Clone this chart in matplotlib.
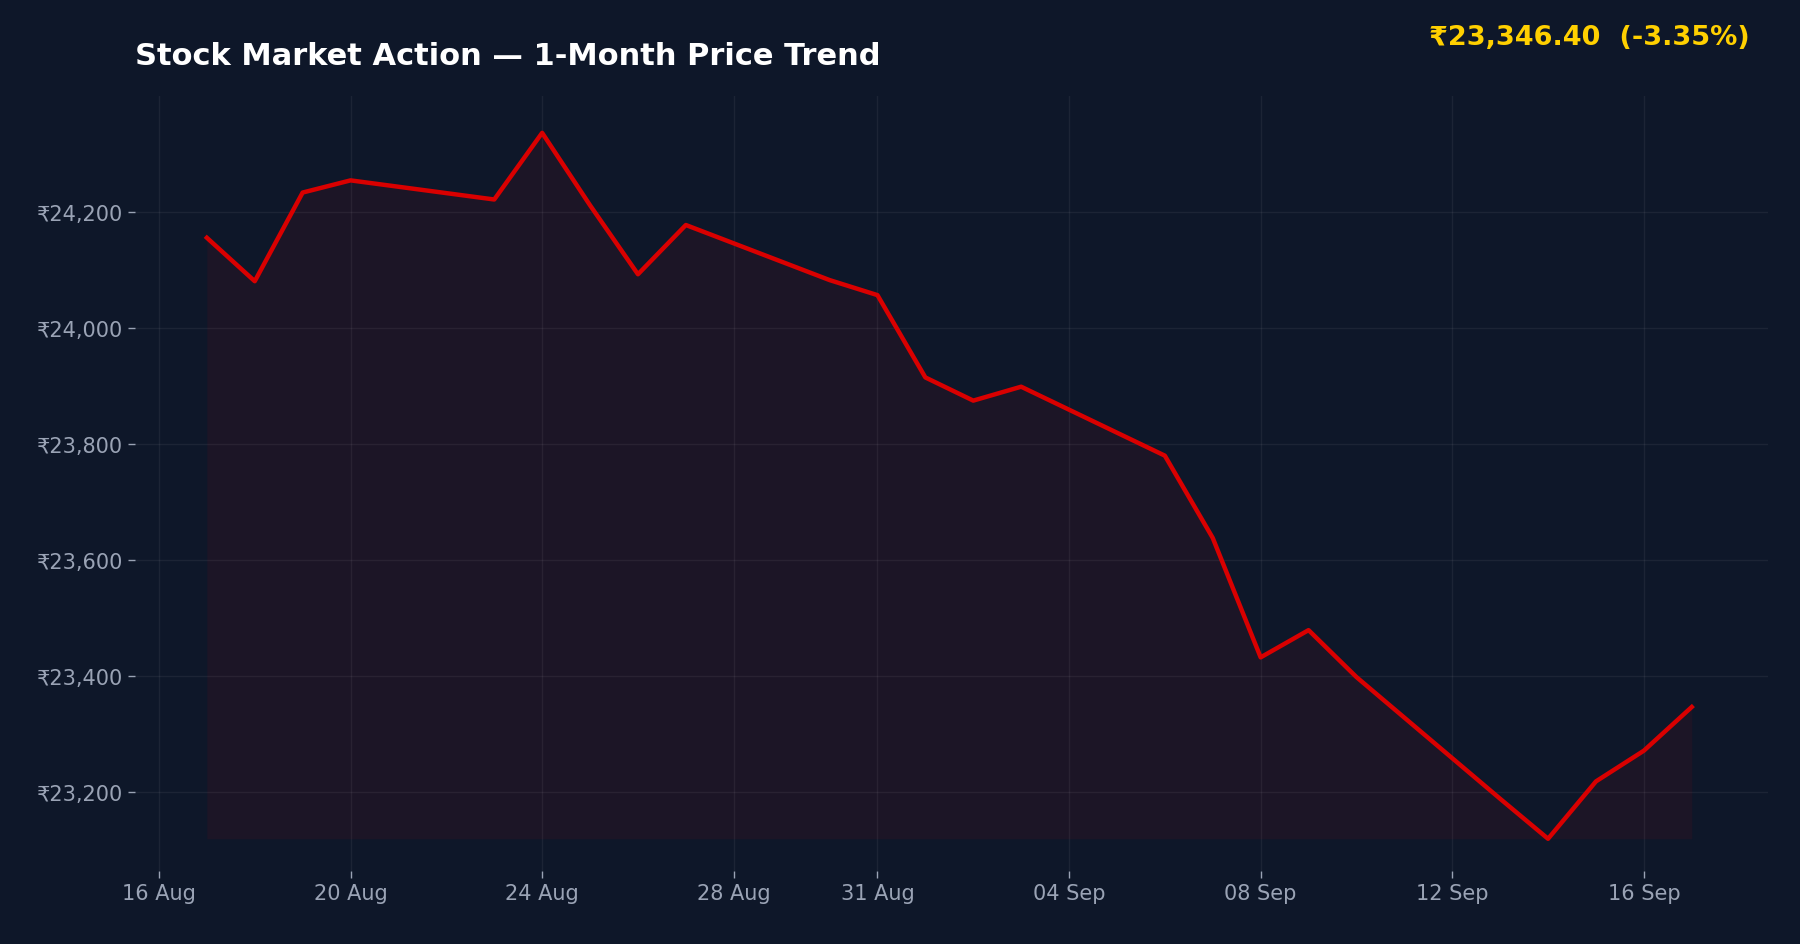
import matplotlib

matplotlib.use("Agg")

import matplotlib.dates as mdates
import matplotlib.pyplot as plt
import numpy as np
import pandas as pd

dates = pd.to_datetime([
    "2021-08-17", "2021-08-18", "2021-08-19", "2021-08-20", "2021-08-23",
    "2021-08-24", "2021-08-25", "2021-08-26", "2021-08-27", "2021-08-30",
    "2021-08-31", "2021-09-01", "2021-09-02", "2021-09-03", "2021-09-06",
    "2021-09-07", "2021-09-08", "2021-09-09", "2021-09-10", "2021-09-13",
    "2021-09-14", "2021-09-15", "2021-09-16", "2021-09-17",
])
prices = [
    24156, 24081, 24234, 24255, 24222,
    24337, 24212, 24093, 24178, 24083,
    24057, 23915, 23875, 23899, 23780,
    23638, 23432, 23479, 23398, 23188,
    23119, 23218, 23271, 23346.40,
]
tick_dates = pd.to_datetime([
    "2021-08-16", "2021-08-20", "2021-08-24", "2021-08-28", "2021-08-31",
    "2021-09-04", "2021-09-08", "2021-09-12", "2021-09-16",
])
title = "Stock Market Action \u2014 1-Month Price Trend"
change_pct = -3.35

BG = "#0e1729"
LINE = "#d90000"
TICK = "#9aa3b5"

fig = plt.figure(figsize=(18, 9.45), dpi=100, facecolor=BG)
ax = fig.add_axes([0.075, 0.077, 0.907, 0.82], facecolor=BG)

prices_arr = np.asarray(prices)
ax.fill_between(dates, prices_arr, prices_arr.min(), color=LINE, alpha=0.07, linewidth=0)
ax.plot(dates, prices_arr, color=LINE, linewidth=3.2)

ax.set_ylim(23063, 24400)
ax.set_xlim(pd.Timestamp("2021-08-15 12:00"), pd.Timestamp("2021-09-18 14:00"))
ax.set_xticks(tick_dates)
ax.xaxis.set_major_formatter(mdates.DateFormatter("%d %b"))
ax.set_yticks([23200, 23400, 23600, 23800, 24000, 24200])
ax.yaxis.set_major_formatter(lambda v, p: f"\u20b9{v:,.0f}")

ax.grid(True, color="#ffffff", alpha=0.06, linewidth=1)
for s in ax.spines.values():
    s.set_visible(False)
ax.tick_params(colors=TICK, labelsize=15, length=5, width=1)

fig.text(0.075, 0.94, title, color="white", fontsize=22, fontweight="bold", va="center")
fig.text(0.972, 0.96, f"\u20b9{prices[-1]:,.2f}  ({change_pct:.2f}%)",
         color="#ffd000", fontsize=19.5, fontweight="bold", ha="right", va="center")

fig.savefig("out.png", facecolor=BG)
